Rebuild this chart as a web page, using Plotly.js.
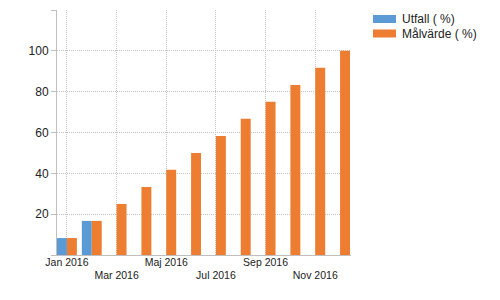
<!DOCTYPE html>
<html>
<head>
<meta charset="utf-8">
<script src="https://cdn.plot.ly/plotly-3.0.1.min.js"></script>
<style>html,body{margin:0;padding:0;background:#fff;}#chart{width:500px;height:300px;}</style>
</head>
<body>
<div id="chart"></div>
<script>
var categories = ['Jan 2016','Feb 2016','Mar 2016','Apr 2016','Maj 2016','Jun 2016','Jul 2016','Aug 2016','Sep 2016','Okt 2016','Nov 2016','Dec 2016'];
var utfall = [8.3, 16.7, null, null, null, null, null, null, null, null, null, null];
var malvarde = [8.3, 16.7, 25, 33.3, 41.7, 50, 58.3, 66.7, 75, 83.3, 91.7, 100];
var seriesNames = ['Utfall ( %)', 'Målvärde ( %)'];
var seriesColors = ['#5B9BD5', '#ED7D31'];
var xTickLabels = ['Jan 2016','Mar 2016','Maj 2016','Jul 2016','Sep 2016','Nov 2016'];
var yTickVals = [0, 20, 40, 60, 80, 100, 120];
var yTickText = ['', '20', '40', '60', '80', '100', ''];

(function(){
var traces = [
  {type:'bar', x:categories, y:utfall, name:seriesNames[0], marker:{color:seriesColors[0]}, showlegend:false, hoverinfo:'none'},
  {type:'bar', x:categories, y:malvarde, name:seriesNames[1], marker:{color:seriesColors[1]}, showlegend:false, hoverinfo:'none'}
];

// plot area geometry (pixels)
var W = 500, H = 300, mL = 57, mR = 149, mT = 10, mB = 45;
var pw = W - mL - mR, ph = H - mT - mB;
function px(x){ return (x - mL) / pw; }
function py(y){ return (H - mB - y) / ph; }

var shapes = [], annotations = [];
for (var i = 0; i < seriesNames.length; i++) {
  var rowTop = 15 + i * 14.5;
  shapes.push({type:'rect', xref:'paper', yref:'paper', x0:px(373), x1:px(396), y0:py(rowTop), y1:py(rowTop + 8), fillcolor:seriesColors[i], line:{width:0}});
  annotations.push({xref:'paper', yref:'paper', x:px(400), y:py(rowTop + 4), xanchor:'left', yanchor:'middle', text:seriesNames[i], showarrow:false, font:{family:'Liberation Sans, Arial, sans-serif', size:12, color:'#222'}});
}

var xTickText = xTickLabels.map(function(t, k){ return k % 2 === 0 ? t : '<br>' + t; });

var layout = {
  width: W, height: H,
  margin: {l:mL, r:mR, t:mT, b:mB, pad:0},
  paper_bgcolor:'#fff', plot_bgcolor:'#fff',
  barmode:'group', bargap:0.2, bargroupgap:0,
  showlegend:false,
  font:{family:'Liberation Sans, Arial, sans-serif', color:'#222'},
  xaxis:{
    type:'category', range:[-0.4, 11.44],
    tickvals:xTickLabels, ticktext:xTickText,
    showgrid:true, gridcolor:'#c4c4c4', griddash:'1px,1px', gridwidth:1,
    showline:true, linecolor:'#bfbfbf', linewidth:1,
    ticks:'', tickfont:{size:10.5, color:'#222'}, tickangle:0, automargin:false,
    ticklabelstandoff:-3
  },
  yaxis:{
    range:[0,120], tickvals:yTickVals, ticktext:yTickText,
    showgrid:true, gridcolor:'#c4c4c4', griddash:'1px,1px', gridwidth:1,
    zeroline:false, showline:true, linecolor:'#bfbfbf', linewidth:1,
    ticks:'outside', ticklen:5, tickcolor:'#bfbfbf',
    tickfont:{size:12, color:'#222'}, automargin:false
  },
  shapes:shapes, annotations:annotations
};

Plotly.newPlot('chart', traces, layout, {staticPlot:true, displayModeBar:false});
})();
</script>
</body>
</html>
